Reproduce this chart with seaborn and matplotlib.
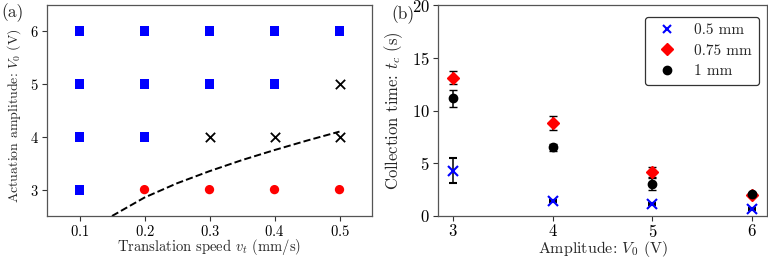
import numpy as np
import pandas as pd
import matplotlib
matplotlib.use("Agg")
import matplotlib.pyplot as plt
from matplotlib.lines import Line2D
import seaborn as sns

# ---- Panel (a) data: phase diagram ----
sq_speed = [0.1, 0.1, 0.1, 0.1, 0.2, 0.2, 0.2, 0.3, 0.3, 0.4, 0.4, 0.5]
sq_amp = [3, 4, 5, 6, 4, 5, 6, 5, 6, 5, 6, 6]
x_speed = [0.3, 0.4, 0.5, 0.5]
x_amp = [4, 4, 4, 5]
circ_speed = [0.2, 0.3, 0.4, 0.5]
circ_amp = [3, 3, 3, 3]
bound_speed = [0.15, 0.2, 0.25, 0.3, 0.35, 0.4, 0.45, 0.5]
bound_amp = [2.5, 2.85, 3.12, 3.35, 3.56, 3.75, 3.93, 4.1]

# ---- Panel (b) data: collection time ----
amplitudes = [3, 4, 5, 6]
t_05 = [4.3, 1.42, 1.17, 0.7]
e_05 = [1.2, 0.1, 0.1, 0.1]
t_075 = [13.1, 8.8, 4.15, 1.95]
e_075 = [0.6, 0.65, 0.45, 0.1]
t_1 = [11.15, 6.5, 3.05, 2.1]
e_1 = [0.8, 0.35, 0.55, 0.1]
labels_b = ["0.5 mm", "0.75 mm", "1 mm"]

sns.set_style("ticks")
plt.rcParams.update({
    "font.family": "serif",
    "font.serif": ["cmr10"],
    "mathtext.fontset": "cm",
    "axes.formatter.use_mathtext": True,
    "font.size": 10,
    "axes.edgecolor": "#555555",
    "axes.linewidth": 0.9,
    "xtick.color": "#333333",
    "ytick.color": "#333333",
    "xtick.labelcolor": "black",
    "ytick.labelcolor": "black",
    "xtick.major.size": 3.5,
    "ytick.major.size": 3.5,
    "xtick.major.pad": 2.5,
    "ytick.major.pad": 2.5,
})

fig = plt.figure(figsize=(7.68, 2.58), dpi=100)
ax1 = fig.add_axes([47/768, 1 - 216/258, 325/768, 211/258])
ax2 = fig.add_axes([438/768, 1 - 216/258, 329/768, 211/258])

# Panel (a)
sns.scatterplot(x=sq_speed, y=sq_amp, marker="s", color="blue", s=50,
                edgecolor="none", ax=ax1)
sns.scatterplot(x=circ_speed, y=circ_amp, marker="o", color="red", s=45,
                edgecolor="none", ax=ax1)
ax1.scatter(x_speed, x_amp, marker="x", color="black", s=45, linewidths=1.3)
sns.lineplot(x=bound_speed, y=bound_amp, color="black", linestyle="--",
             linewidth=1.4, ax=ax1)
ax1.set_xlim(0.05, 0.55)
ax1.set_ylim(2.5, 6.5)
ax1.set_xticks([0.1, 0.2, 0.3, 0.4, 0.5])
ax1.set_yticks([3, 4, 5, 6])
ax1.tick_params(labelsize=10.5)
ax1.tick_params(axis="x", pad=2)
ax1.set_xlabel(r"Translation speed $v_t$ (mm/s)", fontsize=10.5, labelpad=-1)
ax1.set_ylabel(r"Actuation amplitude: $V_0$ (V)", fontsize=10)
ax1.yaxis.set_label_coords(-0.075, 0.475)
fig.text(1/768, 1 - 13/258, "(a)", fontsize=12.5, va="center", ha="left")

# Panel (b)
ax2.errorbar(amplitudes, t_05, yerr=e_05, fmt="x", color="blue", ecolor="black",
             markersize=7, mew=1.5, capsize=3, elinewidth=1.1)
ax2.errorbar(amplitudes, t_075, yerr=e_075, fmt="D", color="red", ecolor="black",
             markersize=6, capsize=3, elinewidth=1.1)
ax2.errorbar(amplitudes, t_1, yerr=e_1, fmt="o", color="black", ecolor="black",
             markersize=6, capsize=3, elinewidth=1.1)
ax2.set_xlim(2.85, 6.15)
ax2.set_ylim(0, 20)
ax2.set_xticks(amplitudes)
ax2.set_yticks([0, 5, 10, 15, 20])
ax2.tick_params(labelsize=12)
ax2.tick_params(axis="x", pad=1.5)
ax2.set_xlabel(r"Amplitude: $V_0$ (V)", fontsize=11.5, labelpad=-0.5)
ax2.set_ylabel(r"Collection time: $t_c$ (s)", fontsize=12, labelpad=5)
handles = [
    Line2D([], [], linestyle="none", marker="x", color="blue", markersize=6, mew=1.5),
    Line2D([], [], linestyle="none", marker="D", color="red", markersize=6),
    Line2D([], [], linestyle="none", marker="o", color="black", markersize=6),
]
leg = ax2.legend(handles, labels_b, loc="upper right", fontsize=11, frameon=True,
                 edgecolor="black", fancybox=True, borderpad=0.45,
                 handletextpad=0.8, labelspacing=0.45, handlelength=2.0,
                 borderaxespad=0, bbox_to_anchor=(0.976, 0.945))
leg.get_frame().set_linewidth(0.9)
fig.text(391/768, 1 - 15/258, "(b)", fontsize=12.5, va="center", ha="left")

fig.savefig("out.png", dpi=100)
